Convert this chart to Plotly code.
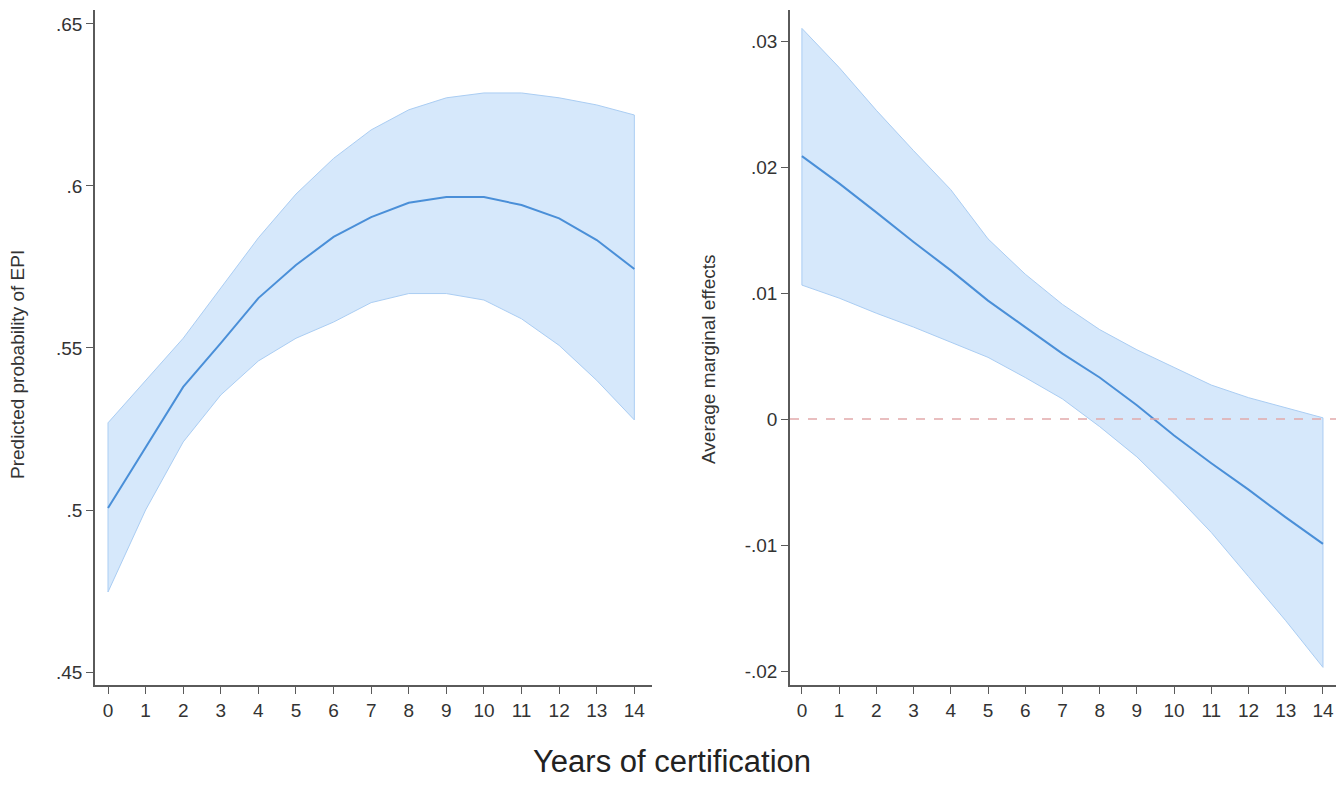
import plotly.graph_objects as go

years = list(range(15))

# Left panel: predicted probability of EPI
pred = [0.5006, 0.5194, 0.5380, 0.5515, 0.5654, 0.5756, 0.5843, 0.5904,
        0.5948, 0.5966, 0.5966, 0.5941, 0.5900, 0.5833, 0.5744]
pred_hi = [0.5269, 0.5400, 0.5530, 0.5685, 0.5840, 0.5975, 0.6085, 0.6173,
           0.6235, 0.6272, 0.6287, 0.6287, 0.6272, 0.6250, 0.6219]
pred_lo = [0.4747, 0.5000, 0.5210, 0.5355, 0.5460, 0.5530, 0.5580, 0.5640,
           0.5668, 0.5668, 0.5648, 0.5590, 0.5508, 0.5400, 0.5278]

# Right panel: average marginal effects
ame = [0.02087, 0.0187, 0.0164, 0.01405, 0.0118, 0.0094, 0.0073, 0.0052,
       0.0033, 0.0011, -0.0013, -0.0035, -0.0056, -0.0078, -0.0099]
ame_hi = [0.0310, 0.0279, 0.0245, 0.0213, 0.0182, 0.0143, 0.0115, 0.0091,
          0.0071, 0.0055, 0.0041, 0.0027, 0.0017, 0.0009, 0.0001]
ame_lo = [0.01063, 0.0096, 0.0084, 0.0073, 0.0061, 0.0049, 0.0033, 0.0016,
          -0.0006, -0.0030, -0.0059, -0.0090, -0.0125, -0.0160, -0.0197]

left_ticks = [0.45, 0.5, 0.55, 0.6, 0.65]
left_ticktext = [".45", ".5", ".55", ".6", ".65"]
right_ticks = [-0.02, -0.01, 0, 0.01, 0.02, 0.03]
right_ticktext = ["-.02", "-.01", "0", ".01", ".02", ".03"]

band_fill = "rgba(214,232,251,1)"
band_edge = "rgba(170,205,243,1)"
line_col = "#4a8fd8"
font_family = "Liberation Sans, Arial, Helvetica, sans-serif"
text_col = "#333333"

fig = go.Figure()

def add_band(xa, ya, lo, hi, mid):
    fig.add_trace(go.Scatter(x=years, y=lo, xaxis=xa, yaxis=ya, mode="lines",
                             line=dict(color=band_edge, width=1), showlegend=False,
                             hoverinfo="skip"))
    fig.add_trace(go.Scatter(x=years, y=hi, xaxis=xa, yaxis=ya, mode="lines",
                             line=dict(color=band_edge, width=1), fill="tonexty",
                             fillcolor=band_fill, showlegend=False, hoverinfo="skip"))
    fig.add_trace(go.Scatter(x=[years[0], years[0], None, years[-1], years[-1]],
                             y=[lo[0], hi[0], None, lo[-1], hi[-1]],
                             xaxis=xa, yaxis=ya, mode="lines",
                             line=dict(color=band_edge, width=1), showlegend=False,
                             hoverinfo="skip"))
    fig.add_trace(go.Scatter(x=years, y=mid, xaxis=xa, yaxis=ya, mode="lines",
                             line=dict(color=line_col, width=2), showlegend=False))

add_band("x", "y", pred_lo, pred_hi, pred)
add_band("x2", "y2", ame_lo, ame_hi, ame)

axis_common = dict(showgrid=False, zeroline=False, showline=True,
                   linecolor="#5a5a5a", linewidth=1.5, ticks="outside",
                   ticklen=7, tickwidth=1.2, tickcolor="#5a5a5a",
                   tickfont=dict(family=font_family, size=19, color=text_col))

W, H = 1328, 773
ydom = [1 - 677 / H, 1 - 2 / H]

fig.update_layout(
    width=W, height=H,
    margin=dict(l=0, r=0, t=0, b=0),
    paper_bgcolor="white", plot_bgcolor="white",
    font=dict(family=font_family, color=text_col),
    xaxis=dict(domain=[87 / W, 644 / W], range=[-0.346, 14.47], tickvals=years,
               anchor="y", **axis_common),
    yaxis=dict(domain=ydom, range=[0.446, 0.6543], tickvals=left_ticks,
               ticktext=left_ticktext, anchor="x", **axis_common),
    xaxis2=dict(domain=[782 / W, 1.0], range=[-0.32, 14.35], tickvals=years,
                anchor="y2", **axis_common),
    yaxis2=dict(domain=ydom, range=[-0.0211, 0.03246], tickvals=right_ticks,
                ticktext=right_ticktext, anchor="x2", **axis_common),
    shapes=[dict(type="line", xref="x2 domain", yref="y2", x0=0, x1=1, y0=0, y1=0,
                 line=dict(color="#e2a9aa", width=1.5, dash="dash"), layer="above")],
    annotations=[
        dict(text="Years of certification", x=0.5, y=0, xref="paper",
             yref="paper", xanchor="center", yanchor="bottom", showarrow=False,
             font=dict(family=font_family, size=31, color="#222222")),
        dict(text="Predicted probability of EPI", x=10 / W, y=1 - 357 / H,
             xref="paper", yref="paper", xanchor="center", yanchor="middle",
             textangle=-90, showarrow=False,
             font=dict(family=font_family, size=19, color=text_col)),
        dict(text="Average marginal effects", x=700 / W, y=1 - 352 / H,
             xref="paper", yref="paper", xanchor="center", yanchor="middle",
             textangle=-90, showarrow=False,
             font=dict(family=font_family, size=19, color=text_col)),
    ],
)

fig.write_html("out.html")
